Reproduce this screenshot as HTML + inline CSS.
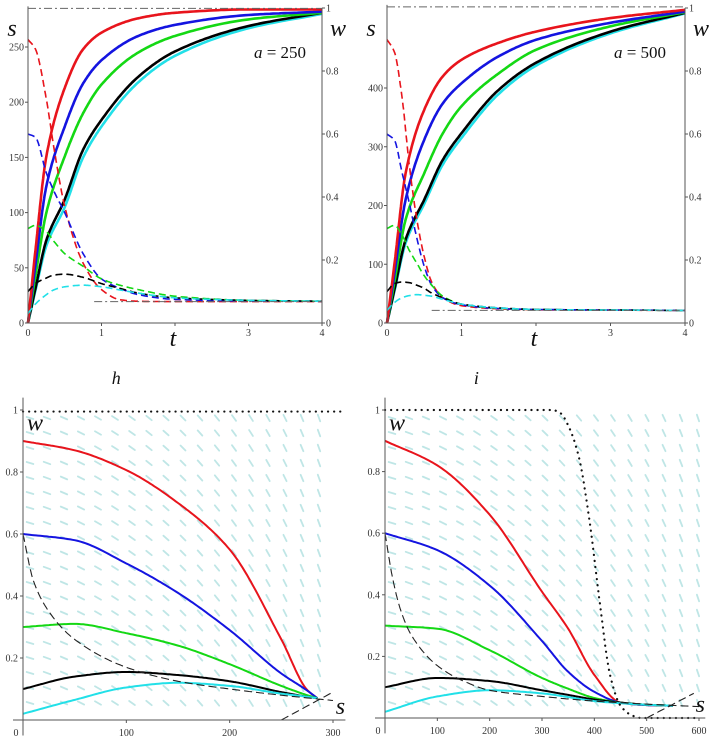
<!DOCTYPE html>
<html><head><meta charset="utf-8"><style>
html,body{margin:0;padding:0;background:#fff;}
svg{display:block;font-family:"Liberation Serif",serif;}
.tk{font-size:10px;fill:#333;}
.lab{font-style:italic;font-size:24px;fill:#111;}
</style></head><body>
<svg id="fig" width="713" height="741" viewBox="0 0 713 741">
<g id="field"></g>
<g id="marks"></g>
<g id="axes"></g>
</svg>
<script>
// ---- Panel h (a=250): time series ----
const tA = [0,0.1,0.25,0.5,0.75,1,1.5,2,3,4];
const hRedS   = [0,65,151,213,248,263,276,281,284,284];
const hBlueS  = [0,52,124,178,217,238,260,270,279,282];
const hGreenS = [0,42,100,151,190,216,245,260,275,281];
const hBlackS = [0,31,75,112,157,184,223,246,269,281];
const hCyanS  = [0,29,70,105,150,178,218,242,267,280];
const tW = [0,0.1,0.25,0.35,0.5,0.75,1,1.25,1.5,2,3,4];
const hRedW   = [0.9,0.87,0.71,0.56,0.37,0.19,0.106,0.074,0.069,0.068,0.068,0.068];
const hBlueW  = [0.6,0.59,0.476,0.42,0.35,0.22,0.14,0.11,0.09,0.075,0.07,0.069];
const hGreenW = [0.3,0.31,0.29,0.26,0.22,0.18,0.14,0.12,0.106,0.085,0.072,0.069];
const hBlackW = [0.1,0.125,0.143,0.152,0.155,0.145,0.125,0.11,0.095,0.08,0.072,0.069];
const hCyanW  = [0.03,0.06,0.09,0.105,0.115,0.12,0.115,0.105,0.095,0.08,0.072,0.069];
// ---- Panel i (a=500): time series ----
const iRedS   = [0,100,255,363,420,448,477,496,519,533];
const iBlueS  = [0,84,210,312,374,408,454,482,511,530];
const iGreenS = [0,70,176,255,323,369,425,465,505,529];
const iBlackS = [0,57,142,210,278,323,397,443,496,528];
const iCyanS  = [0,54,136,203,270,315,390,438,493,527];
const tW2 = [0,0.1,0.2,0.3,0.4,0.5,0.6,0.75,1,1.5,2,4];
const iRedW   = [0.9,0.86,0.72,0.5,0.33,0.21,0.13,0.08,0.055,0.045,0.042,0.04];
const iBlueW  = [0.6,0.58,0.48,0.38,0.27,0.18,0.12,0.08,0.058,0.046,0.043,0.04];
const iGreenW = [0.3,0.31,0.28,0.23,0.19,0.15,0.12,0.085,0.06,0.047,0.043,0.04];
const iBlackW = [0.1,0.125,0.13,0.128,0.12,0.11,0.095,0.08,0.06,0.048,0.043,0.04];
const iCyanW  = [0.04,0.065,0.08,0.087,0.09,0.088,0.085,0.075,0.06,0.048,0.043,0.04];
// ---- Phase plane (a=250) ----
const pS1 = [0,50,100,150,200,250,275,285];
const p1Red   = [0.9,0.87,0.806,0.7,0.55,0.26,0.097,0.07];
const p1Blue  = [0.6,0.58,0.505,0.41,0.29,0.15,0.095,0.07];
const p1Green = [0.3,0.31,0.28,0.24,0.18,0.11,0.08,0.07];
const p1Black = [0.1,0.14,0.155,0.145,0.125,0.09,0.075,0.07];
const p1Cyan  = [0.02,0.065,0.105,0.12,0.11,0.085,0.075,0.07];
const n1S = [0,10,25,50,100,150,200,250,300];
const n1W = [0.6,0.45,0.35,0.26,0.17,0.125,0.1,0.08,0.063];
const l1S = [250,300]; const l1W = [0,0.09];
// ---- Phase plane (a=500) ----
const pS2 = [0,100,200,300,350,400,450,500,550];
const p2Red   = [0.9,0.82,0.66,0.41,0.29,0.14,0.05,0.042,0.04];
const p2Blue  = [0.6,0.545,0.43,0.25,0.15,0.085,0.05,0.042,0.04];
const p2Green = [0.3,0.29,0.22,0.13,0.095,0.065,0.05,0.043,0.04];
const p2Black = [0.1,0.13,0.12,0.09,0.075,0.06,0.05,0.043,0.04];
const p2Cyan  = [0.02,0.07,0.09,0.08,0.068,0.055,0.048,0.043,0.04];
const n2S = [0,15,30,50,100,150,200,300,400,500,600];
const n2W = [0.6,0.45,0.35,0.27,0.17,0.12,0.09,0.07,0.055,0.045,0.037];
const l2S = [500,590]; const l2W = [0,0.08];
const d2S = [0,320,335,350,370,390,410,430,450,470,490,600];
const d2W = [1,1,0.99,0.95,0.85,0.65,0.38,0.14,0.04,0.01,0,0];

const NS="http://www.w3.org/2000/svg";
const marks=document.getElementById('marks'), axes=document.getElementById('axes'), field=document.getElementById('field');
function el(tag,attrs,parent){const e=document.createElementNS(NS,tag);for(const k in attrs)e.setAttribute(k,attrs[k]);parent.appendChild(e);return e;}
const hX=t=>28+t*73.5, hS=s=>323-s*1.104, hWy=w=>323-w*315;
const iX=t=>387+t*74.5, iS=s=>323-s*0.5875, iWy=w=>323-w*315;
const p1X=s=>23+s*310/300, p1Y=w=>720-w*310;
const p2X=s=>385+s*314/600, p2Y=w=>718-w*308;
// monotone cubic (Fritsch-Carlson) interpolation in data space, sampled densely
function interp(xs,ys){
 const n=xs.length,d=[],m=new Array(n);
 for(let i=0;i<n-1;i++)d.push((ys[i+1]-ys[i])/(xs[i+1]-xs[i]));
 m[0]=d[0];m[n-1]=d[n-2];
 for(let i=1;i<n-1;i++){ if(d[i-1]*d[i]<=0)m[i]=0; else { const h0=xs[i]-xs[i-1],h1=xs[i+1]-xs[i]; const w1=2*h1+h0,w2=h1+2*h0; m[i]=(w1+w2)/(w1/d[i-1]+w2/d[i]); } }
 const out=[];
 for(let i=0;i<n-1;i++){const h=xs[i+1]-xs[i];const steps=24;
  for(let k=0;k<steps;k++){const t=k/steps,t2=t*t,t3=t2*t;
   const y=(2*t3-3*t2+1)*ys[i]+(t3-2*t2+t)*h*m[i]+(-2*t3+3*t2)*ys[i+1]+(t3-t2)*h*m[i+1];
   out.push([xs[i]+t*h,y]);}}
 out.push([xs[n-1],ys[n-1]]);return out;}
function curve(xs,ys,fx,fy,color,w,dash,name){
 const pts=interp(xs,ys).map(p=>fx(p[0]).toFixed(1)+','+fy(p[1]).toFixed(1));
 const p=el('path',{d:'M'+pts.join(' L'),fill:'none',stroke:color,'stroke-width':w,'stroke-linejoin':'round'},marks);
 if(dash)p.setAttribute('stroke-dasharray',dash);
 
 
 return p;
}
const C={red:'#e8141c',blue:'#1414e0',green:'#14d814',black:'#000',cyan:'#22e0e8'};
function arrows(x0,x1,y0,y1){
 for(let x=x0;x<=x1;x+=17){for(let y=y0;y<=y1;y+=15){
  const fr=(x-x0)/(x1-x0); const ang=0.3+fr*0.95; const L=7;
  const l=el('line',{x1:x-L/2*Math.cos(ang),y1:y-L/2*Math.sin(ang),x2:x+L/2*Math.cos(ang),y2:y+L/2*Math.sin(ang),stroke:'#bfe6e6','stroke-width':1.8,'stroke-linecap':'round'},field);
  
  
 }}
}
arrows(30,330,418,712);
arrows(392,700,418,712);
[[hRedS,'red'],[hBlueS,'blue'],[hGreenS,'green'],[hBlackS,'black'],[hCyanS,'cyan']].reverse().forEach(([a,c])=>curve(tA,a,hX,hS,C[c],2.6,null,'h-s-'+c));
[[hRedW,'red'],[hBlueW,'blue'],[hGreenW,'green'],[hBlackW,'black'],[hCyanW,'cyan']].forEach(([a,c])=>curve(tW,a,hX,hWy,C[c],1.6,'7,4','h-w-'+c));
[[iRedS,'red'],[iBlueS,'blue'],[iGreenS,'green'],[iBlackS,'black'],[iCyanS,'cyan']].reverse().forEach(([a,c])=>curve(tA,a,iX,iS,C[c],2.6,null,'i-s-'+c));
[[iRedW,'red'],[iBlueW,'blue'],[iGreenW,'green'],[iBlackW,'black'],[iCyanW,'cyan']].forEach(([a,c])=>curve(tW2,a,iX,iWy,C[c],1.6,'7,4','i-w-'+c));
[[p1Red,'red'],[p1Blue,'blue'],[p1Green,'green'],[p1Black,'black'],[p1Cyan,'cyan']].forEach(([a,c])=>curve(pS1,a,p1X,p1Y,C[c],2,null,'phase1-'+c));
curve(n1S,n1W,p1X,p1Y,'#222',1.1,'8,4','phase1-nullcline');
curve(l1S,l1W,p1X,p1Y,'#222',1.1,'8,4','phase1-line');
[[p2Red,'red'],[p2Blue,'blue'],[p2Green,'green'],[p2Black,'black'],[p2Cyan,'cyan']].forEach(([a,c])=>curve(pS2,a,p2X,p2Y,C[c],2,null,'phase2-'+c));
curve(n2S,n2W,p2X,p2Y,'#222',1.1,'8,4','phase2-nullcline');
curve(l2S,l2W,p2X,p2Y,'#222',1.1,'8,4','phase2-line');
curve(d2S,d2W,p2X,p2Y,'#111',2.2,'0.1,6','phase2-dotted').setAttribute('stroke-linecap','round');
function sline(x1,y1,x2,y2,st,w,dash,name,par){const l=el('line',{x1,y1,x2,y2,stroke:st,'stroke-width':w},par||axes);if(dash)l.setAttribute('stroke-dasharray',dash);return l;}
function txt(x,y,s,cls,anchor,name){const t=el('text',{x,y,class:cls,'text-anchor':anchor||'middle'},axes);t.textContent=s;return t;}
(function(){const l=el('line',{x1:p1X(0),y1:p1Y(0.995),x2:p1X(312),y2:p1Y(0.995),stroke:'#111','stroke-width':2.2,'stroke-dasharray':'0.1,6','stroke-linecap':'round'},marks);})();
function timePanel(fx,fs,fw,smax,wEq,tEq,sTicks,label,aTxt,ax,name){
 sline(fx(0),fs(smax)-2,fx(0),323,'#555',1,null,name+'-left-axis');
 sline(fx(0),323,fx(4),323,'#555',1,null,name+'-bottom-axis');
 sline(fx(4),fw(1),fx(4),325,'#555',1,null,name+'-right-axis');
 sline(fx(0),fs(smax),fx(4),fs(smax),'#666',1,'8,3,2,3',name+'-upper-ref');
 sline(fx(tEq),fw(wEq),fx(4),fw(wEq),'#666',1,'8,3,2,3',name+'-lower-ref');
 sTicks.forEach(v=>{sline(fx(0)-3,fs(v),fx(0),fs(v),'#555',1,null,name+'-s-tick');txt(fx(0)-4,fs(v)+3.5,String(v),'tk','end',name+'-s-tick-label');});
 [0,0.2,0.4,0.6,0.8,1].forEach(v=>{sline(fx(4),fw(v),fx(4)+3,fw(v),'#555',1,null,name+'-w-tick');txt(fx(4)+4,fw(v)+3.5,String(v),'tk','start',name+'-w-tick-label');});
 [0,1,3,4].forEach(v=>{txt(fx(v),336,String(v),'tk','middle',name+'-t-tick-label');});
 [1,2,3,4].forEach(v=>sline(fx(v),323,fx(v),326,'#555',1,null,name+'-t-tick'));
 txt(fx(0)-16,36,'s','lab','middle',name+'-s-axis-title');
 txt(fx(4)+16,36,'w','lab','middle',name+'-w-axis-title');
 txt(fx(2)-2,346,'t','lab','middle',name+'-t-axis-title');
 const a=txt(ax,58,'','lab','middle',name+'-param-label');a.style.fontSize='17px';
 a.innerHTML='<tspan font-style="italic">a</tspan><tspan font-style="normal"> = '+aTxt+'</tspan>';
 const l=txt(fx(1.2),384,label,'lab','middle',name+'-panel-letter');l.style.fontSize='18px';
}
timePanel(hX,hS,hWy,285,0.068,0.9,[0,50,100,150,200,250],'h','250',280,'panel-h');
timePanel(iX,iS,iWy,538,0.04,0.6,[0,100,200,300,400],'i','500',640,'panel-i');
function phasePanel(fx,fy,sTicks,smax,name){
 sline(fx(0),fy(1.04),fx(0),fy(-0.05),'#555',1,null,name+'-w-axis');
 sline(fx(0)-10,fy(0),fx(smax),fy(0),'#555',1,null,name+'-s-axis');
 [0.2,0.4,0.6,0.8,1].forEach(v=>{sline(fx(0)-3,fy(v),fx(0),fy(v),'#555',1,null,name+'-w-tick');txt(fx(0)-5,fy(v)+3.5,String(v),'tk','end',name+'-w-tick-label');});
 sTicks.forEach(v=>{sline(fx(v),fy(0),fx(v),fy(0)+3,'#555',1,null,name+'-s-tick');txt(fx(v),fy(0)+16,String(v),'tk','middle',name+'-s-tick-label');});
 txt(fx(0)-7,fy(0)+16,'0','tk','middle',name+'-origin-label');
 txt(fx(0)+12,fy(0.95)+5,'w','lab','middle',name+'-w-axis-title');
 txt(fx(smax)-5,fy(0.02),'s','lab','middle',name+'-s-axis-title');
}
phasePanel(p1X,p1Y,[100,200,300],312,'phase1');
phasePanel(p2X,p2Y,[100,200,300,400,500,600],612,'phase2');
</script>
</body></html>
